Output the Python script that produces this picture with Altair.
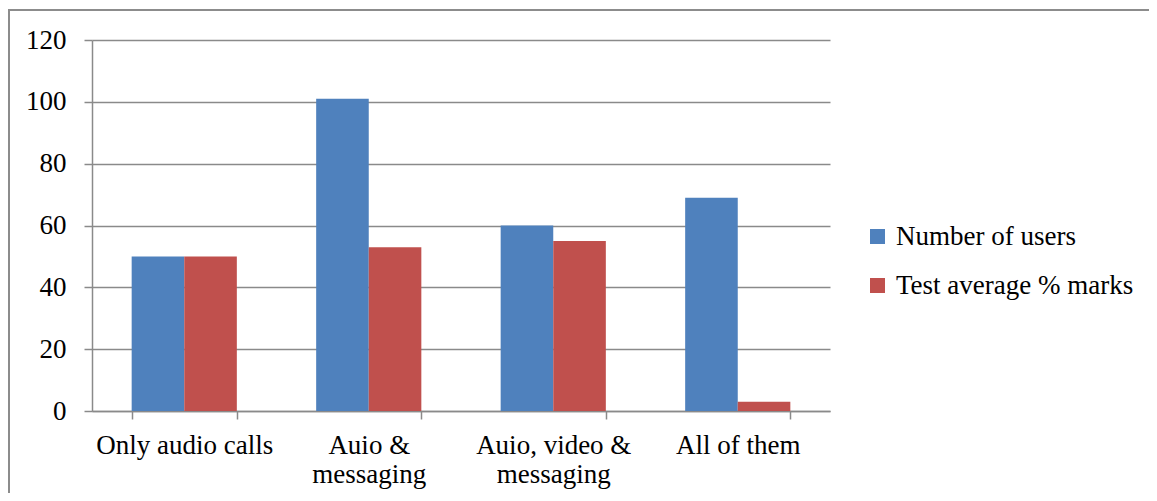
import altair as alt
import pandas as pd

categories = ["Only audio calls", "Auio & messaging", "Auio, video & messaging", "All of them"]
series = ["Number of users", "Test average % marks"]
number_of_users = [50, 101, 60, 69]
test_average = [50, 53, 55, 3]
colors = ["#4F81BD", "#C0504D"]

rows = []
for c, u, t in zip(categories, number_of_users, test_average):
    rows.append({"category": c, "series": series[0], "value": u})
    rows.append({"category": c, "series": series[1], "value": t})
df = pd.DataFrame(rows)

FONT = "Liberation Serif"
GRID = "#8a8a8a"

label_expr = (
    "datum.label == 'Auio & messaging' ? ['Auio &', 'messaging'] : "
    "datum.label == 'Auio, video & messaging' ? ['Auio, video &', 'messaging'] : datum.label"
)

bars = alt.Chart(df).mark_bar().encode(
    x=alt.X("category:N", sort=categories,
            scale=alt.Scale(paddingInner=0.43, paddingOuter=0.215),
            axis=alt.Axis(title=None, labelAngle=0, tickBand="extent", grid=False,
                          labelExpr=label_expr, labelLineHeight=29,
                          tickSize=8, labelPadding=13, labelFont=FONT, labelFontSize=27,
                          labelColor="black", domainColor=GRID, tickColor=GRID,
                          domainWidth=1.5, tickWidth=1.5)),
    xOffset=alt.XOffset("series:N", sort=series, scale=alt.Scale(paddingInner=0, paddingOuter=0)),
    y=alt.Y("value:Q", scale=alt.Scale(domain=[0, 120]),
            axis=alt.Axis(title=None, values=[0, 20, 40, 60, 80, 100, 120], tickSize=8,
                          labelPadding=18, labelFont=FONT, labelFontSize=27, labelColor="black",
                          gridColor=GRID, gridWidth=1.5, domainColor=GRID, tickColor=GRID,
                          domainWidth=1.5, tickWidth=1.5)),
    color=alt.Color("series:N", sort=series,
                    scale=alt.Scale(domain=series, range=colors),
                    legend=alt.Legend(title=None, orient="none", legendX=772, legendY=183,
                                      padding=0, symbolType="square", symbolSize=225,
                                      symbolStrokeWidth=0, labelFont=FONT, labelFontSize=27,
                                      labelColor="black", labelOffset=5, rowPadding=21,
                                      labelLimit=400)),
)

frame_df = pd.DataFrame({"a": [0]})
top_line = alt.Chart(frame_df).mark_rule(color="#8c8c8c", strokeWidth=2).encode(
    x=alt.value(-84), x2=alt.value(1060), y=alt.value(-30)
)
left_line = alt.Chart(frame_df).mark_rule(color="#8c8c8c", strokeWidth=2).encode(
    x=alt.value(-83), y=alt.value(-31), y2=alt.value(460)
)

chart = alt.layer(bars, top_line, left_line).properties(
    width=738, height=371,
    padding={"left": 84, "top": 32, "right": 319, "bottom": 82},
    autosize=alt.AutoSizeParams(type="none"),
).configure_view(strokeWidth=0)

chart.save("out.html", embed_options={"renderer": "svg", "actions": False})
